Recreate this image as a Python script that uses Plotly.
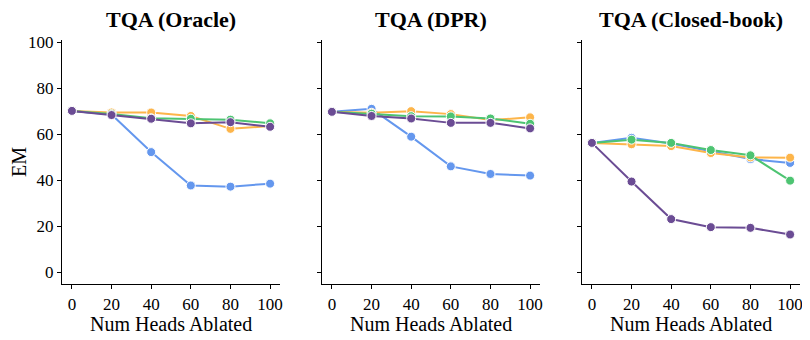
import plotly.graph_objects as go
from plotly.subplots import make_subplots

heads = [0, 20, 40, 60, 80, 100]
panels = ["TQA (Oracle)", "TQA (DPR)", "TQA (Closed-book)"]

# one list per series, per panel
oracle_blue = [70.2, 68.6, 52.3, 37.8, 37.3, 38.6]
oracle_orange = [70.2, 69.5, 69.5, 68.0, 62.4, 63.6]
oracle_green = [70.2, 68.8, 67.0, 66.8, 66.4, 64.8]
oracle_purple = [70.2, 68.4, 66.8, 64.8, 65.3, 63.3]

dpr_blue = [69.8, 71.1, 59.0, 46.1, 42.8, 42.1]
dpr_orange = [69.8, 69.4, 70.1, 68.8, 66.2, 67.4]
dpr_green = [69.8, 69.0, 67.9, 67.8, 66.9, 64.6]
dpr_purple = [69.8, 68.0, 66.9, 65.0, 65.0, 62.6]

cb_blue = [56.3, 58.5, 56.0, 52.6, 49.3, 47.6]
cb_orange = [56.3, 55.7, 54.9, 51.9, 50.0, 49.9]
cb_green = [56.3, 57.7, 56.3, 53.2, 50.9, 39.9]
cb_purple = [56.3, 39.5, 23.2, 19.7, 19.4, 16.5]

colors = ["#6497EE", "#FDB54A", "#4DC472", "#6B4C94"]
panel_data = [
    [oracle_blue, oracle_orange, oracle_green, oracle_purple],
    [dpr_blue, dpr_orange, dpr_green, dpr_purple],
    [cb_blue, cb_orange, cb_green, cb_purple],
]

font = "Liberation Serif"

fig = make_subplots(rows=1, cols=3, horizontal_spacing=0.057)

for col, series in enumerate(panel_data, start=1):
    for vals, c in zip(series, colors):
        fig.add_trace(go.Scatter(x=heads, y=vals, mode='lines+markers',
                                 line=dict(color=c, width=2),
                                 marker=dict(color=c, size=9,
                                             line=dict(color='white', width=1)),
                                 showlegend=False),
                      row=1, col=col)

doms = [[0, 0.2954], [0.3523, 0.6477], [0.7046, 1.0]]
for i, d in enumerate(doms, start=1):
    fig.update_xaxes(domain=d, range=[-5, 105], tickvals=heads,
                     showline=True, linecolor='black', linewidth=1.3,
                     ticks='outside', ticklen=4, tickcolor='black',
                     showgrid=False, zeroline=False, automargin=False,
                     tickfont=dict(size=17),
                     row=1, col=i)
    fig.update_yaxes(range=[-5, 101], tickvals=[0, 20, 40, 60, 80, 100],
                     showticklabels=(i == 1),
                     showline=True, linecolor='black', linewidth=1.3,
                     ticks='outside', ticklen=4, tickcolor='black',
                     showgrid=False, zeroline=False, automargin=False,
                     tickfont=dict(size=17),
                     row=1, col=i)
fig.update_yaxes(title=dict(text="EM", standoff=8, font=dict(size=20)), row=1, col=1)

for i, t in enumerate(panels):
    mid = (doms[i][0] + doms[i][1]) / 2
    fig.add_annotation(text="<b>" + t + "</b>", x=mid, y=1.0, xref='paper',
                       yref='paper', xanchor='center', yanchor='bottom', yshift=6,
                       showarrow=False, font=dict(size=22))
    fig.add_annotation(text="Num Heads Ablated", x=mid, y=0, xref='paper',
                       yref='paper', xanchor='center', yanchor='middle', yshift=-40,
                       showarrow=False, font=dict(size=20))

# page body adds an 8px offset, margins compensate for it
fig.update_layout(
    width=810, height=340,
    margin=dict(l=54, r=18, t=32, b=64),
    plot_bgcolor='white', paper_bgcolor='white',
    font=dict(family=font, size=17, color='black'),
)

fig.write_html("out.html")
